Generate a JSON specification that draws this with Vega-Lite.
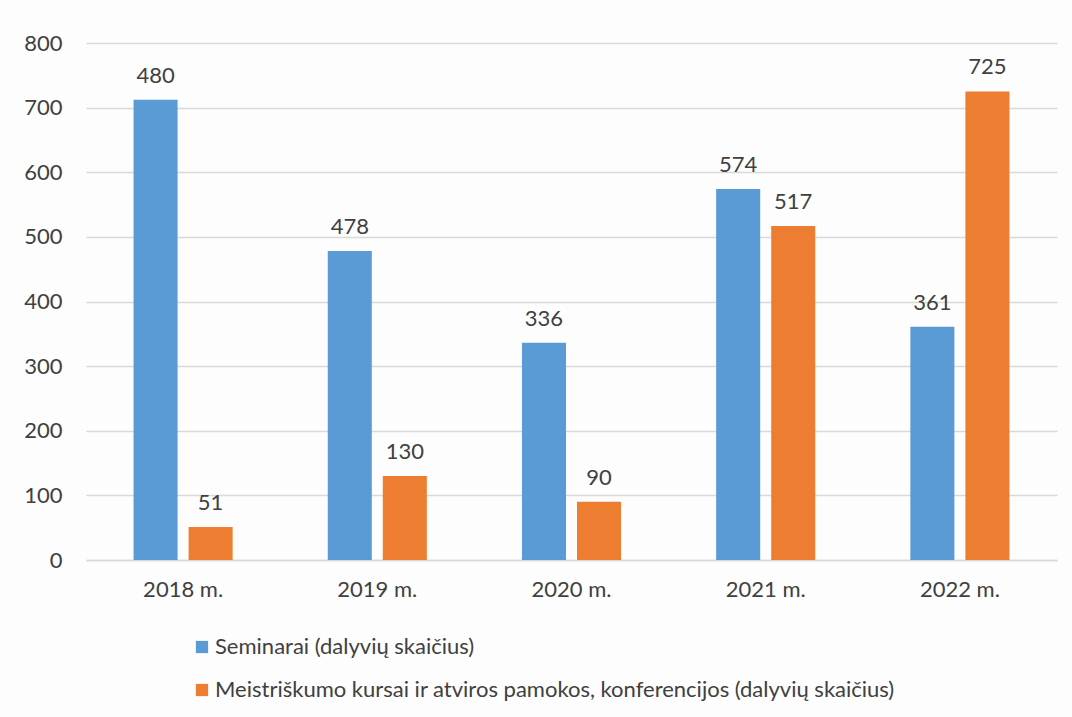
{
  "$schema": "https://vega.github.io/schema/vega-lite/v6.json",
  "width": 971,
  "height": 517,
  "autosize": {"type": "none"},
  "padding": {"left": 86, "top": 43, "right": 15, "bottom": 157},
  "background": "#fdfdfd",
  "data": {
    "values": [
      {"year": "2018 m.", "series": "Seminarai (dalyvių skaičius)", "value": 712, "label": "480"},
      {"year": "2018 m.", "series": "Meistriškumo kursai ir atviros pamokos, konferencijos (dalyvių skaičius)", "value": 51, "label": "51"},
      {"year": "2019 m.", "series": "Seminarai (dalyvių skaičius)", "value": 478, "label": "478"},
      {"year": "2019 m.", "series": "Meistriškumo kursai ir atviros pamokos, konferencijos (dalyvių skaičius)", "value": 130, "label": "130"},
      {"year": "2020 m.", "series": "Seminarai (dalyvių skaičius)", "value": 336, "label": "336"},
      {"year": "2020 m.", "series": "Meistriškumo kursai ir atviros pamokos, konferencijos (dalyvių skaičius)", "value": 90, "label": "90"},
      {"year": "2021 m.", "series": "Seminarai (dalyvių skaičius)", "value": 574, "label": "574"},
      {"year": "2021 m.", "series": "Meistriškumo kursai ir atviros pamokos, konferencijos (dalyvių skaičius)", "value": 517, "label": "517"},
      {"year": "2022 m.", "series": "Seminarai (dalyvių skaičius)", "value": 361, "label": "361"},
      {"year": "2022 m.", "series": "Meistriškumo kursai ir atviros pamokos, konferencijos (dalyvių skaičius)", "value": 725, "label": "725"}
    ]
  },
  "encoding": {
    "x": {
      "field": "year", "type": "nominal", "title": null,
      "scale": {"paddingInner": 0, "paddingOuter": 0},
      "axis": {"labelAngle": 0, "domain": true, "domainColor": "#d9d9d9", "domainWidth": 1.5, "ticks": false, "labelPadding": 19, "labelFontSize": 22, "labelColor": "#404040", "labelFont": "Lato", "grid": false}
    },
    "xOffset": {
      "field": "series", "type": "nominal",
      "sort": ["Seminarai (dalyvių skaičius)", "Meistriškumo kursai ir atviros pamokos, konferencijos (dalyvių skaičius)"],
      "scale": {"paddingInner": 0.2, "paddingOuter": 0.864}
    },
    "y": {
      "field": "value", "type": "quantitative", "title": null,
      "scale": {"domain": [0, 800]},
      "axis": {"values": [0, 100, 200, 300, 400, 500, 600, 700, 800], "domain": false, "ticks": false, "labelPadding": 24, "labelFontSize": 22, "labelColor": "#404040", "labelFont": "Lato", "gridColor": "#d9d9d9", "gridWidth": 1.5}
    }
  },
  "layer": [
    {
      "mark": {"type": "bar"},
      "encoding": {
        "color": {
          "field": "series", "type": "nominal",
          "sort": ["Seminarai (dalyvių skaičius)", "Meistriškumo kursai ir atviros pamokos, konferencijos (dalyvių skaičius)"],
          "scale": {"range": ["#5b9bd5", "#ed7d31"]},
          "legend": {
            "title": null, "orient": "none", "legendX": 105, "legendY": 593, "direction": "vertical",
            "symbolType": "square", "symbolSize": 150, "symbolStrokeWidth": 0, "symbolOpacity": 1,
            "labelFontSize": 22, "labelFont": "Lato", "labelColor": "#404040", "labelLimit": 900,
            "rowPadding": 21, "labelOffset": 2
          }
        }
      }
    },
    {
      "mark": {"type": "text", "baseline": "bottom", "dy": -12, "fontSize": 22, "font": "Lato", "color": "#404040"},
      "encoding": {"text": {"field": "label"}}
    }
  ],
  "config": {"view": {"stroke": null}}
}
